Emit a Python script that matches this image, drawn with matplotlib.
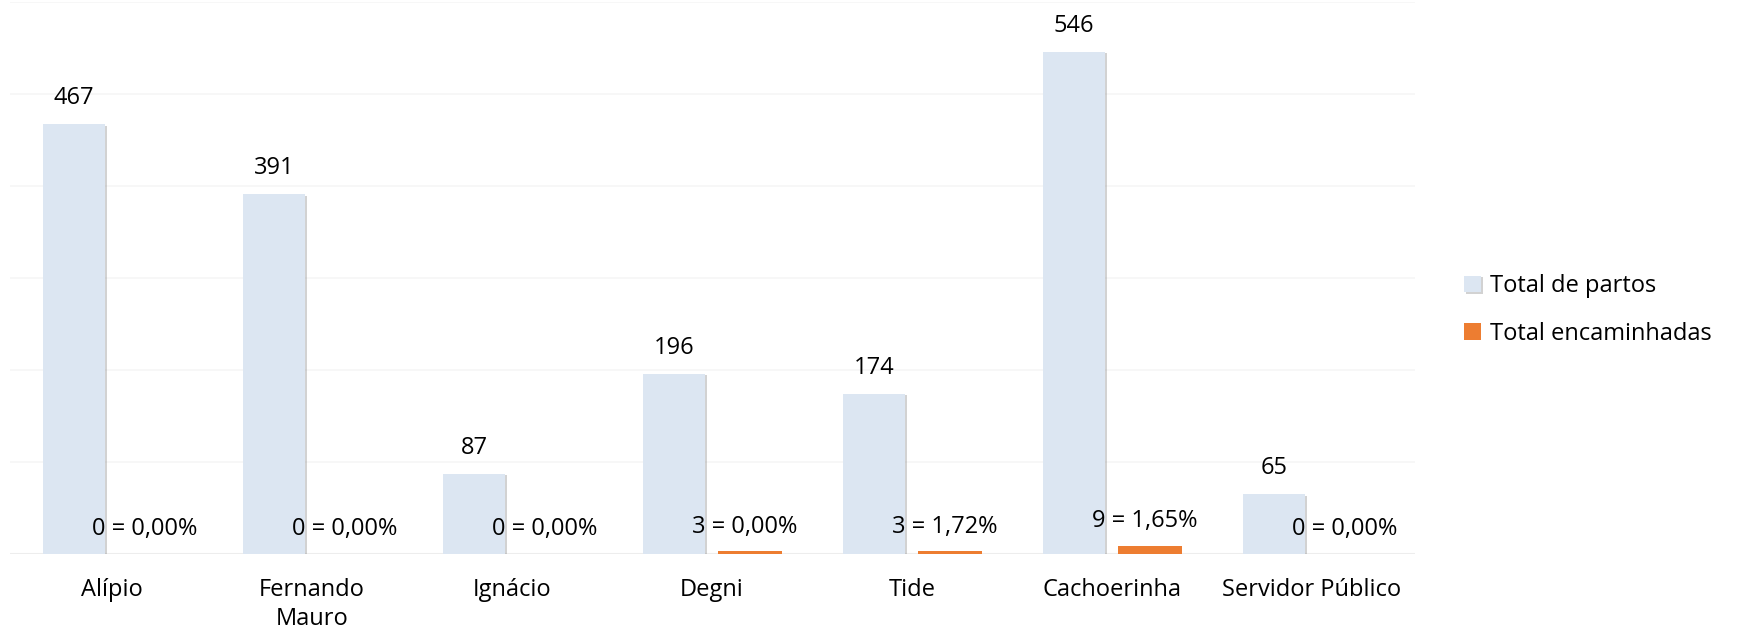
import matplotlib.pyplot as plt
import matplotlib.patheffects as pe
import numpy as np

# dados do gráfico
unidades = ['Alípio', 'Fernando\nMauro', 'Ignácio', 'Degni', 'Tide', 'Cachoerinha', 'Servidor Público']
total_partos = [467, 391, 87, 196, 174, 546, 65]
total_encaminhadas = [0, 0, 0, 3, 3, 9, 0]
percentuais = ['0,00%', '0,00%', '0,00%', '0,00%', '1,72%', '1,65%', '0,00%']

plt.rcParams['font.family'] = ['Open Sans', 'DejaVu Sans']
fs = 17

fig = plt.figure(figsize=(17.54, 6.32), dpi=100)
ax = fig.add_axes([10 / 1754, 78 / 632, 1405 / 1754, 552 / 632])

x = np.arange(len(unidades))
largura = 0.31
sombra = [pe.SimplePatchShadow(offset=(1.5, -1), shadow_rgbFace='#7f7f7f', alpha=0.35), pe.Normal()]

barras_azuis = ax.bar(x - 0.19, total_partos, largura, color='#DCE6F2',
                      label='Total de partos', zorder=3, path_effects=sombra)
barras_laranja = ax.bar(x + 0.19, total_encaminhadas, 0.32, color='#ED7D31',
                        label='Total encaminhadas', zorder=3)

for xi, v in zip(x, total_partos):
    ax.annotate(str(v), (xi - 0.19, v), xytext=(0, 10), textcoords='offset points',
                ha='center', va='bottom', fontsize=fs)

for xi, v, p in zip(x, total_encaminhadas, percentuais):
    ax.annotate(f'{v} = {p}', (xi + 0.165, v), xytext=(0, 9), textcoords='offset points',
                ha='center', va='bottom', fontsize=fs)

ax.set_ylim(0, 600)
ax.set_xlim(-0.51, 6.515)
ax.set_yticks(range(0, 601, 100))
ax.yaxis.grid(True, color='#F6F6F6', linewidth=1.2, zorder=0)
ax.set_axisbelow(True)
ax.tick_params(axis='y', left=False, labelleft=False)
ax.tick_params(axis='x', length=0, pad=17, labelsize=fs)
ax.set_xticks(x)
ax.set_xticklabels(unidades, linespacing=1.3)
for s in ax.spines.values():
    s.set_visible(False)
ax.axhline(0, color='#EDEDED', linewidth=1.5, zorder=1)

fig.legend(loc='center left', bbox_to_anchor=(1443 / 1754, 1 - 310 / 632), frameon=False,
           fontsize=fs, handlelength=0.7, handleheight=0.7, handletextpad=0.4, labelspacing=1.0)

fig.savefig('out.png', dpi=100)
